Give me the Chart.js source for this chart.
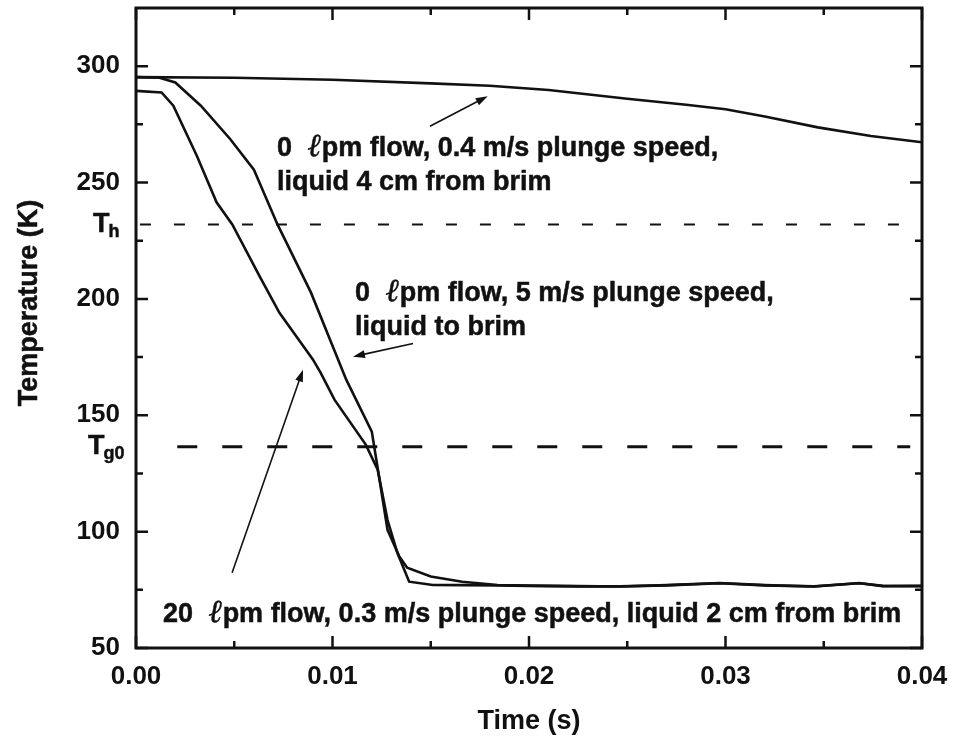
<!DOCTYPE html>
<html>
<head>
<meta charset="utf-8">
<script src="https://cdn.jsdelivr.net/npm/chart.js@4"></script>
<style>
  html, body { margin: 0; padding: 0; background: #fff; }
</style>
</head>
<body>
<canvas id="chart" width="953" height="746"></canvas>
<script>
// axis ticks
const xTicks = [0, 0.01, 0.02, 0.03, 0.04];
const yTicks = [50, 100, 150, 200, 250, 300];
const xMinor = [0.005, 0.015, 0.025, 0.035];
const yMinor = [75, 125, 175, 225, 275];

// 0 lpm flow, 0.4 m/s plunge speed, liquid 4 cm from brim
const tSlow = [0, 0.005, 0.010, 0.015, 0.018, 0.021, 0.025, 0.028, 0.030, 0.032, 0.0347, 0.0374, 0.040];
const tempSlow = [295.3, 295.0, 294.2, 292.6, 291.6, 289.8, 286.0, 283.4, 281.5, 278.4, 273.7, 270.0, 267.3];

// 0 lpm flow, 5 m/s plunge speed, liquid to brim
const tFast = [0, 0.0012, 0.0020, 0.0033, 0.0048, 0.0060, 0.0072, 0.0089, 0.0107, 0.0120, 0.0124, 0.0128, 0.0134,
  0.0138, 0.0150, 0.0166, 0.0184, 0.0200, 0.0225, 0.0246, 0.0270, 0.0297, 0.0320, 0.0345, 0.0368, 0.0380, 0.0400];
const tempFast = [295.3, 295.0, 293.0, 283.0, 268.6, 255.5, 232.0, 202.8, 165.3, 143.0, 122.0, 100.8, 89.3,
  84.5, 80.7, 78.5, 77.1, 76.8, 76.6, 76.4, 77.0, 77.9, 77.0, 76.4, 77.9, 76.6, 76.7];

// 20 lpm flow, 0.3 m/s plunge speed, liquid 2 cm from brim
const tFlow = [0, 0.0013, 0.0019, 0.0031, 0.0041, 0.0049, 0.0063, 0.0073, 0.0090, 0.0094, 0.0101, 0.0117, 0.0123,
  0.0128, 0.0133, 0.0139, 0.0151, 0.0166, 0.0184, 0.0200, 0.0225, 0.0246, 0.0270, 0.0297, 0.0320, 0.0345, 0.0368, 0.0380, 0.0400];
const tempFlow = [289.4, 288.7, 283.0, 261.4, 241.5, 232.0, 209.6, 194.0, 174.0, 168.2, 156.7, 137.3, 126.6,
  105.0, 90.9, 78.5, 77.1, 77.0, 76.9, 76.7, 76.5, 76.5, 76.9, 77.8, 76.9, 76.5, 77.8, 76.7, 76.6];

// reference temperatures (dashed)
const T_h = 232;
const T_g0 = 136.5;
const thSpan = [0.0002, 0.0392];
const tg0Span = [0.0021, 0.0394];

// annotations, in data units
const notes = [
  { t: 0.00718, T: 261.3, lines: ['0  ℓpm flow, 0.4 m/s plunge speed,', 'liquid 4 cm from brim'] },
  { t: 0.01115, T: 198.9, lines: ['0  ℓpm flow, 5 m/s plunge speed,', 'liquid to brim'] },
  { t: 0.00137, T: 61.2, lines: ['20  ℓpm flow, 0.3 m/s plunge speed, liquid 2 cm from brim'] }
];
const arrows = [
  { from: [0.01496, 274.2], to: [0.0179, 287.1] },
  { from: [0.0141, 180.8], to: [0.01104, 175.2] },
  { from: [0.00489, 82.3], to: [0.0085, 169.6] }
];

const FONT = '"Liberation Sans", Arial, Helvetica, sans-serif';
const INK = '#111';

const toPts = (xs, ys) => xs.map((x, i) => ({ x, y: ys[i] }));

function drawArrow(ctx, x1, y1, x2, y2) {
  const a = Math.atan2(y2 - y1, x2 - x1);
  const len = 12, w = 4;
  ctx.beginPath();
  ctx.moveTo(x1, y1);
  ctx.lineTo(x2 - len * 0.7 * Math.cos(a), y2 - len * 0.7 * Math.sin(a));
  ctx.stroke();
  ctx.beginPath();
  ctx.moveTo(x2, y2);
  ctx.lineTo(x2 - len * Math.cos(a) + w * Math.sin(a), y2 - len * Math.sin(a) - w * Math.cos(a));
  ctx.lineTo(x2 - len * Math.cos(a) - w * Math.sin(a), y2 - len * Math.sin(a) + w * Math.cos(a));
  ctx.closePath();
  ctx.fill();
}

// bold text, slightly thickened, with the script ell in italic
function heavyText(ctx, s, x, y) {
  ctx.fillText(s, x, y);
  ctx.strokeText(s, x, y);
}

function richText(ctx, str, x, y, size) {
  const parts = str.split('ℓ');
  let cx = x;
  ctx.lineWidth = 0.5;
  parts.forEach((p, i) => {
    if (i > 0) {
      ctx.font = `italic bold ${size + 5}px "DejaVu Serif", serif`;
      heavyText(ctx, 'ℓ', cx + 1, y);
      cx += ctx.measureText('ℓ').width + 1;
    }
    ctx.font = `bold ${size}px ${FONT}`;
    heavyText(ctx, p, cx, y);
    cx += ctx.measureText(p).width;
  });
}

function subLabel(ctx, main, sub, x, y) {
  ctx.lineWidth = 0.5;
  ctx.font = `bold 27px ${FONT}`;
  heavyText(ctx, main, x, y);
  const w = ctx.measureText(main).width;
  ctx.font = `bold 18px ${FONT}`;
  heavyText(ctx, sub, x + w - 1, y + 5);
}

const decor = {
  id: 'decor',
  afterDraw(chart) {
    const { ctx, chartArea: a, scales: { x, y } } = chart;
    ctx.save();
    ctx.strokeStyle = INK;
    ctx.fillStyle = INK;

    // frame
    ctx.lineWidth = 3;
    ctx.strokeRect(a.left, a.top, a.right - a.left, a.bottom - a.top);

    // inward ticks on all four sides
    ctx.lineWidth = 2.5;
    const xt = (vals, len) => vals.forEach(v => {
      const px = x.getPixelForValue(v);
      ctx.beginPath();
      ctx.moveTo(px, a.bottom); ctx.lineTo(px, a.bottom - len);
      ctx.moveTo(px, a.top); ctx.lineTo(px, a.top + len);
      ctx.stroke();
    });
    const yt = (vals, len) => vals.forEach(v => {
      const py = y.getPixelForValue(v);
      ctx.beginPath();
      ctx.moveTo(a.left, py); ctx.lineTo(a.left + len, py);
      ctx.moveTo(a.right, py); ctx.lineTo(a.right - len, py);
      ctx.stroke();
    });
    xt(xTicks, 12); xt(xMinor, 7);
    yt(yTicks, 12); yt(yMinor, 7);

    // Th and Tg0 labels beside the axis
    ctx.textAlign = 'left';
    ctx.textBaseline = 'alphabetic';
    subLabel(ctx, 'T', 'h', a.left - 43, y.getPixelForValue(T_h) + 8);
    subLabel(ctx, 'T', 'g0', a.left - 48, y.getPixelForValue(T_g0) + 7);

    // y title
    ctx.save();
    ctx.translate(30, (a.top + a.bottom) / 2 - 25);
    ctx.rotate(-Math.PI / 2);
    ctx.textAlign = 'center';
    ctx.textBaseline = 'middle';
    ctx.font = `bold 27px ${FONT}`;
    ctx.lineWidth = 0.5;
    heavyText(ctx, 'Temperature (K)', 0, 0);
    ctx.restore();

    // annotations
    notes.forEach(n => {
      const px = x.getPixelForValue(n.t);
      const py = y.getPixelForValue(n.T);
      n.lines.forEach((line, i) => richText(ctx, line, px, py + i * 34, 27));
    });

    ctx.lineWidth = 1.6;
    arrows.forEach(ar => {
      drawArrow(ctx,
        x.getPixelForValue(ar.from[0]), y.getPixelForValue(ar.from[1]),
        x.getPixelForValue(ar.to[0]), y.getPixelForValue(ar.to[1]));
    });
    ctx.restore();
  }
};

const curve = (data) => ({
  data, borderColor: INK, borderWidth: 2.6, pointRadius: 0, tension: 0, fill: false
});

new Chart(document.getElementById('chart'), {
  type: 'line',
  data: {
    datasets: [
      curve(toPts(tSlow, tempSlow)),
      curve(toPts(tFast, tempFast)),
      curve(toPts(tFlow, tempFlow)),
      { data: toPts(thSpan, [T_h, T_h]), borderColor: INK, borderWidth: 2, borderDash: [11, 23], pointRadius: 0 },
      { data: toPts(tg0Span, [T_g0, T_g0]), borderColor: INK, borderWidth: 3, borderDash: [20, 25], pointRadius: 0 }
    ]
  },
  options: {
    responsive: false,
    animation: false,
    layout: { padding: { top: 8, right: 31, left: 0, bottom: 0 } },
    plugins: { legend: { display: false }, tooltip: { enabled: false } },
    scales: {
      x: {
        type: 'linear',
        min: 0,
        max: 0.04,
        afterBuildTicks: (s) => { s.ticks = xTicks.map(v => ({ value: v })); },
        afterFit: (s) => { s.height = 98; s.paddingLeft = 0; s.paddingRight = 0; },
        grid: { display: false, drawTicks: false },
        border: { display: false },
        ticks: { color: INK, font: { family: FONT, size: 26, weight: 'bold' }, padding: 13, maxRotation: 0, autoSkip: false,
          callback: (v) => v.toFixed(2) },
        title: { display: true, text: 'Time (s)', color: INK, font: { family: FONT, size: 27, weight: 'bold' }, padding: { top: 0, bottom: 8 } }
      },
      y: {
        type: 'linear',
        min: 50,
        max: 325,
        afterBuildTicks: (s) => { s.ticks = yTicks.map(v => ({ value: v })); },
        afterFit: (s) => { s.width = 136; s.paddingTop = 0; s.paddingBottom = 0; },
        grid: { display: false, drawTicks: false },
        border: { display: false },
        ticks: { color: INK, font: { family: FONT, size: 26, weight: 'bold' }, padding: 16 }
      }
    }
  },
  plugins: [decor]
});
</script>
</body>
</html>
